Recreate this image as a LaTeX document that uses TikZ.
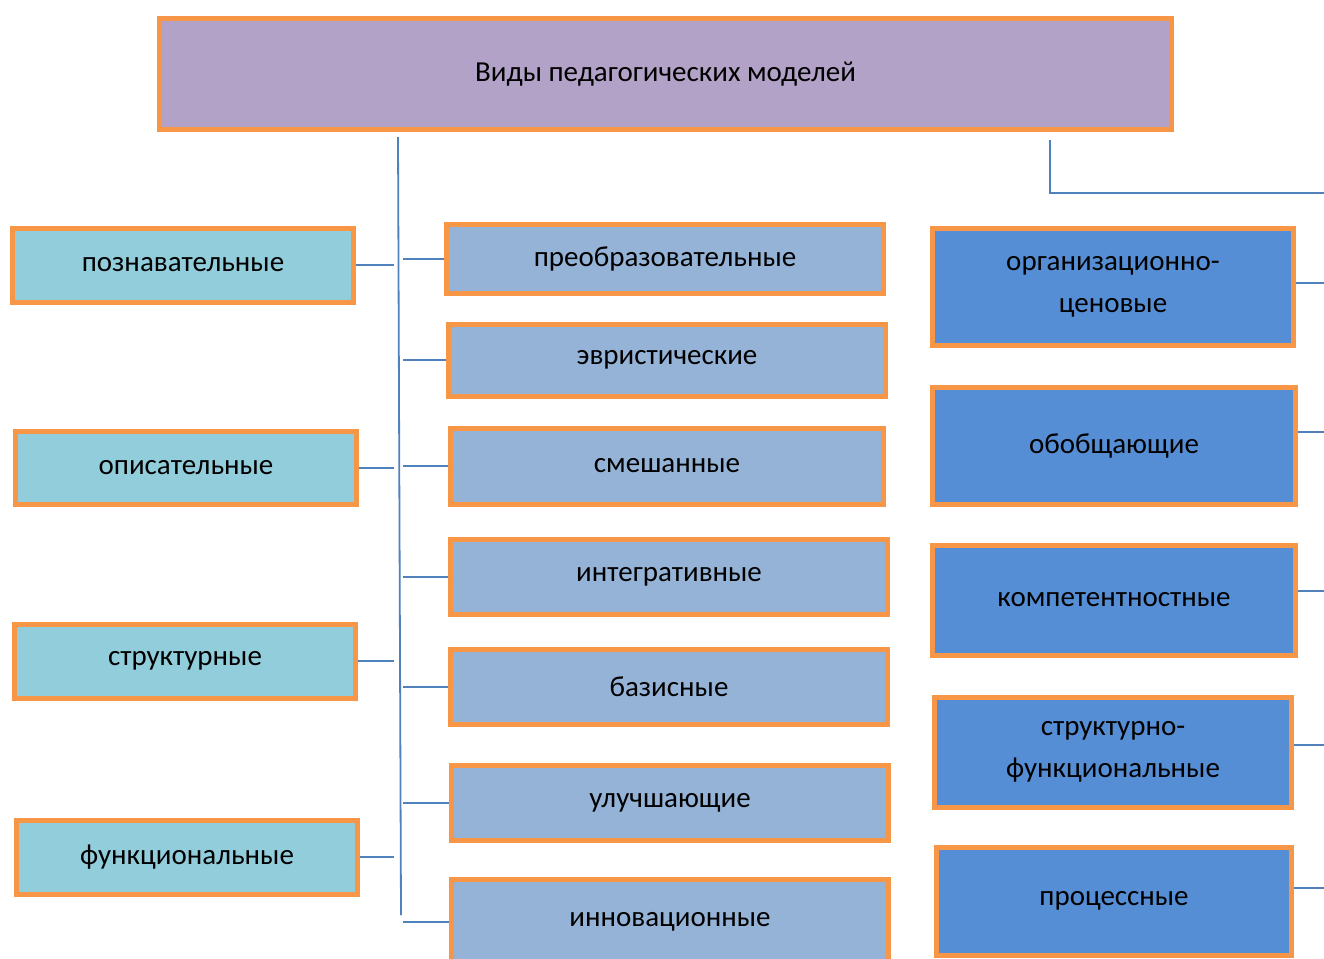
\documentclass[tikz,border=0pt]{standalone}
\usepackage{fontspec}
\setmainfont{Carlito}
\usetikzlibrary{positioning}
\definecolor{morange}{HTML}{F79646}
\definecolor{mviolet}{HTML}{B3A2C7}
\definecolor{maqua}{HTML}{92CDDC}
\definecolor{msteel}{HTML}{95B3D7}
\definecolor{mblue}{HTML}{558ED5}
\definecolor{mline}{HTML}{4F81BD}
\tikzset{box/.style = {draw=morange, line width=5pt, inner sep=0pt, align=center,
                       font=\fontsize{29}{42}\selectfont}}
\tikzset{leftbox/.style = {box, fill=maqua, minimum width=341pt, minimum height=74pt}}
\tikzset{midbox/.style = {box, fill=msteel, minimum width=437pt, minimum height=75pt}}
\tikzset{rightbox/.style = {box, fill=mblue, minimum width=361pt, minimum height=112pt}}
\tikzset{link/.style = {draw=mline, line width=2.2pt}}

\begin{document}
\begin{tikzpicture}[x=1pt, y=-1pt]
    \useasboundingbox (0, 0) rectangle (1324, 958);
    \clip (0, 0) rectangle (1324, 958);

    \node [box, fill=mviolet, minimum width=1012pt, minimum height=111pt] (types) at (665.5, 74) {Виды педагогических моделей};

    % left column
    \node [leftbox] (cogn) at (183, 265) {познавательные};
    \node [leftbox, minimum height=73pt] (descr) at (186, 468) {описательные};
    \node [leftbox] (struct) at (185, 661) {структурные};
    \node [leftbox, minimum width=341pt] (func) at (187, 857) {функциональные};

    % middle column
    \node [midbox, minimum height=69pt] (transf) at (665, 259) {преобразовательные};
    \node [midbox, minimum height=72pt] (heur) at (667, 360) {эвристические};
    \node [midbox, minimum width=433pt, minimum height=76pt] (mixed) at (667, 466) {смешанные};
    \node [midbox] (integr) at (669, 577) {интегративные};
    \node [midbox] (basic) at (669, 687) {базисные};
    \node [midbox] (improv) at (670, 803) {улучшающие};
    \node [midbox, minimum height=86pt] (innov) at (670, 922) {инновационные};

    % right column
    \node [rightbox, minimum height=117pt] (orgval) at (1113, 287) {организационно-\\ценовые};
    \node [rightbox, minimum width=363pt, minimum height=117pt] (gener) at (1114, 446) {обобщающие};
    \node [rightbox, minimum width=363pt, minimum height=110pt] (compet) at (1114, 600) {компетентностные};
    \node [rightbox, minimum width=357pt, minimum height=110pt] (structf) at (1113, 752) {структурно-\\функциональные};
    \node [rightbox, minimum width=355pt, minimum height=108pt] (proc) at (1114, 901) {процессные};

    % connectors
    \coordinate (trunktop) at (398, 137);
    \coordinate (trunkbot) at (401, 915);
    \coordinate (branchtop) at (1050, 140);
    \coordinate (branchend) at (1324, 193);

    \draw [link, line width=1.8pt] (trunktop) -- (trunkbot);
    \draw [link, line width=1.8pt] (branchtop) |- (branchend);

    \foreach \n in {cogn, descr, struct, func}
        \draw [link, shorten >=4pt] (\n.east) -- (\n.east -| trunktop);
    \foreach \n in {transf, heur, mixed, integr, basic, improv, innov}
        \draw [link, shorten >=5pt] (\n.west) -- (\n.west -| trunktop);
    \foreach \n/\s in {orgval/4, gener/14, compet/9, structf/7, proc/13}
        \draw [link] ([yshift=\s pt]\n.east) -- ([yshift=\s pt]\n.east -| branchend);
\end{tikzpicture}
\end{document}
